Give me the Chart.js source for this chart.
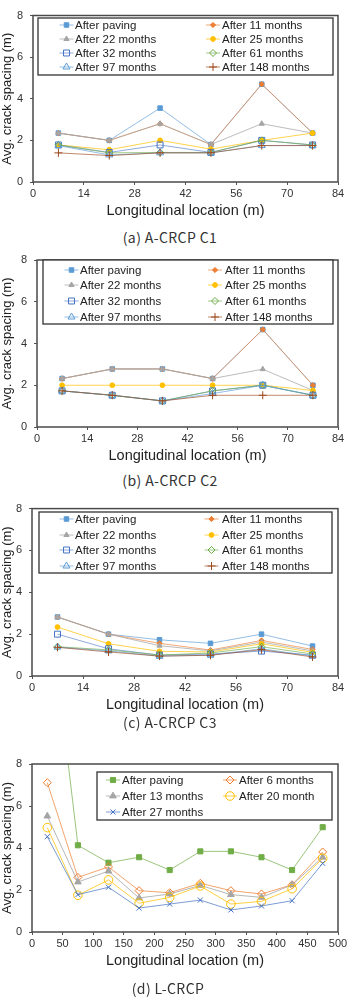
<!DOCTYPE html>
<html>
<head>
<meta charset="utf-8">
<script src="https://cdn.jsdelivr.net/npm/chart.js@4.4.1/dist/chart.umd.min.js"></script>
<style>
  html, body { margin: 0; padding: 0; background: #fff; }
  body { width: 350px; height: 1006px; position: relative; overflow: hidden; }
  canvas { position: absolute; left: 0; }
  .caption {
    position: absolute; left: -5px; width: 350px; text-align: center;
    font-family: "Noto Sans CJK KR", "Liberation Sans", sans-serif;
    font-size: 14px; line-height: 16px; letter-spacing: 0.4px; color: #333;
  }
</style>
</head>
<body>
<canvas id="c1" width="350" height="222" style="top:0px"></canvas>
<div class="caption" style="top:229px">(a) A-CRCP C1</div>
<canvas id="c2" width="350" height="222" style="top:245px"></canvas>
<div class="caption" style="top:472px">(b) A-CRCP C2</div>
<canvas id="c3" width="350" height="221" style="top:495px"></canvas>
<div class="caption" style="top:714px">(c) A-CRCP C3</div>
<canvas id="c4" width="350" height="222" style="top:750px"></canvas>
<div class="caption" style="top:980px; left:-7px">(d) L-CRCP</div>

<script>
// ---- data (avg. crack spacing in m) ----
const locA = [7, 21, 35, 49, 63, 77];
const locL = [25, 75, 125, 175, 225, 275, 325, 375, 425, 475];

const labelsA = ["After paving", "After 11 months", "After 22 months", "After 25 months",
                 "After 32 months", "After 61 months", "After 97 months", "After 148 months"];
const labelsL = ["After paving", "After 6 months", "After 13 months", "After 20 month", "After 27 months"];

const ticksA = [0, 14, 28, 42, 56, 70, 84];
const ticksL = [0, 50, 100, 150, 200, 250, 300, 350, 400, 450, 500];
const ticksY = [0, 2, 4, 6, 8];

// A-CRCP C1, one row per survey
const c1Values = [
    [2.35, 2.0, 3.55, 1.8, 4.7, 2.35],
    [2.35, 2.0, 2.8, 1.8, 4.7, 2.35],
    [2.35, 2.0, 2.8, 1.8, 2.8, 2.35],
    [1.78, 1.55, 2.0, 1.58, 2.0, 2.35],
    [1.78, 1.42, 1.78, 1.42, 2.0, 1.78],
    [1.78, 1.4, 1.42, 1.42, 2.0, 1.78],
    [1.75, 1.3, 1.4, 1.4, 1.75, 1.76],
    [1.4, 1.27, 1.4, 1.4, 1.75, 1.75]
];

// A-CRCP C2
const c2Values = [
    [2.32, 2.78, 2.78, 2.32, 4.67, 2.0],
    [2.32, 2.78, 2.78, 2.32, 4.67, 2.0],
    [2.32, 2.78, 2.78, 2.32, 2.77, 1.75],
    [2.0, 2.0, 2.0, 2.0, 2.0, 1.75],
    [1.73, 1.52, 1.25, 1.73, 2.0, 1.52],
    [1.73, 1.52, 1.25, 1.73, 2.0, 1.52],
    [1.73, 1.52, 1.25, 1.6, 2.0, 1.52],
    [1.73, 1.52, 1.25, 1.52, 1.52, 1.52]
];

// A-CRCP C3
const c3Values = [
    [2.82, 2.0, 1.73, 1.56, 2.0, 1.43],
    [2.82, 2.0, 1.56, 1.24, 1.7, 1.27],
    [2.82, 2.0, 1.45, 1.2, 1.62, 1.2],
    [2.34, 1.54, 1.18, 1.15, 1.54, 1.13],
    [2.0, 1.3, 1.0, 1.05, 1.19, 1.0],
    [1.4, 1.25, 1.0, 1.1, 1.4, 1.05],
    [1.38, 1.2, 0.95, 1.0, 1.3, 0.95],
    [1.37, 1.15, 0.95, 0.99, 1.26, 0.91]
];

// L-CRCP
const c4Values = [
    [16.4, 4.13, 3.3, 3.56, 2.95, 3.84, 3.84, 3.56, 2.95, 4.99],
    [7.11, 2.6, 3.1, 1.97, 1.87, 2.32, 1.97, 1.81, 2.25, 3.81],
    [5.52, 2.38, 2.9, 1.62, 1.81, 2.22, 1.78, 1.65, 2.25, 3.56],
    [4.97, 1.75, 2.48, 1.37, 1.65, 2.19, 1.33, 1.46, 2.06, 3.51],
    [4.54, 1.78, 2.13, 1.14, 1.33, 1.52, 1.05, 1.24, 1.49, 3.27]
];

// ---- styles ----
const FONT = "'Liberation Sans', Arial, sans-serif";

const styleA = [
    { color: "#5B9BD5", line: "rgba(91,155,213,0.65)", style: "rect", r: 3.2, fill: true },
    { color: "#ED7D31", line: "rgba(237,125,49,0.65)", style: "rectRot", r: 2.6, fill: true },
    { color: "#A5A5A5", line: "rgba(165,165,165,0.75)", style: "triangle", r: 3, fill: true },
    { color: "#FFC000", line: "rgba(255,192,0,0.7)", style: "circle", r: 2.4, fill: true },
    { color: "#4472C4", line: "rgba(68,114,196,0.6)", style: "rect", r: 4.2, fill: false },
    { color: "#70AD47", line: "rgba(112,173,71,0.65)", style: "rectRot", r: 3.5, fill: false },
    { color: "#5B9BD5", line: "rgba(91,155,213,0.65)", style: "triangle", r: 4, fill: false },
    { color: "#9E4A1E", line: "rgba(158,74,30,0.65)", style: "cross", r: 4, fill: false }
];

const styleL = [
    { color: "#70AD47", line: "rgba(112,173,71,0.7)", style: "rect", r: 3.6, fill: true },
    { color: "#ED7D31", line: "rgba(237,125,49,0.7)", style: "rectRot", r: 4, fill: false },
    { color: "#A5A5A5", line: "rgba(165,165,165,0.8)", style: "triangle", r: 3.8, fill: true },
    { color: "#FFC000", line: "rgba(255,192,0,0.75)", style: "circle", r: 4.3, fill: false },
    { color: "#4472C4", line: "rgba(68,114,196,0.7)", style: "crossRot", r: 3.6, fill: false }
];

// frame around the plot + boxed two-column legend (Excel look)
const frameLegend = {
    id: "frameLegend",
    afterDatasetsDraw(chart, args, opts) {
        const ctx = chart.ctx;
        const a = chart.chartArea;
        ctx.save();
        ctx.strokeStyle = "#4a4a4a";
        ctx.lineWidth = 1.5;
        ctx.strokeRect(a.left, a.top, a.right - a.left, a.bottom - a.top);

        const lg = opts.legend;
        const off = opts.top;
        const b = lg.box;
        ctx.fillStyle = "#fff";
        ctx.fillRect(b[0], b[1] - off, b[2] - b[0], b[3] - b[1]);
        ctx.strokeStyle = "#333";
        ctx.lineWidth = 1.3;
        ctx.strokeRect(b[0], b[1] - off, b[2] - b[0], b[3] - b[1]);

        chart.data.datasets.forEach((ds, i) => {
            const col = i % 2;
            const y = lg.rows[Math.floor(i / 2)] - off;
            const mx = lg.marks[col];
            ctx.strokeStyle = ds.borderColor;
            ctx.lineWidth = 1;
            ctx.beginPath();
            ctx.moveTo(mx - 7, y);
            ctx.lineTo(mx + 7, y);
            ctx.stroke();
            ctx.fillStyle = ds.pointBackgroundColor;
            ctx.strokeStyle = ds.pointBorderColor;
            ctx.lineWidth = ds.pointBorderWidth;
            Chart.helpers.drawPoint(ctx, {
                pointStyle: ds.pointStyle, rotation: 0,
                radius: ds.pointRadius, borderWidth: ds.pointBorderWidth
            }, mx, y);
            ctx.fillStyle = "#222";
            ctx.font = "11.5px " + FONT;
            ctx.textBaseline = "middle";
            ctx.textAlign = "left";
            ctx.fillText(ds.label, lg.texts[col], y + 0.5);
        });
        ctx.restore();
    }
};

function makeDatasets(locs, values, labels, styles) {
    const n = values.length;
    return values.map((row, i) => {
        const s = styles[i];
        return {
            label: labels[i],
            data: row.map((v, j) => ({ x: locs[j], y: v })),
            borderColor: s.line,
            borderWidth: 1,
            pointStyle: s.style,
            pointRadius: s.r,
            pointBorderWidth: 1,
            pointBorderColor: s.color,
            pointBackgroundColor: s.fill ? s.color : "rgba(255,255,255,0)",
            tension: 0,
            order: n - i // later surveys drawn on top
        };
    });
}

function renderChart(id, cfg) {
    const canvasTop = cfg.canvasTop;
    new Chart(document.getElementById(id).getContext("2d"), {
        type: "line",
        data: { datasets: makeDatasets(cfg.locs, cfg.values, cfg.labels, cfg.styles) },
        options: {
            responsive: false,
            animation: false,
            events: [],
            layout: {
                autoPadding: false,
                padding: { top: cfg.plotTop - canvasTop, right: 350 - cfg.plotRight, bottom: 0, left: 0 }
            },
            plugins: {
                legend: { display: false },
                tooltip: { enabled: false },
                frameLegend: { legend: cfg.legend, top: canvasTop }
            },
            scales: {
                x: {
                    type: "linear",
                    min: cfg.xTicks[0],
                    max: cfg.xTicks[cfg.xTicks.length - 1],
                    afterBuildTicks: s => { s.ticks = cfg.xTicks.map(v => ({ value: v })); },
                    afterFit: s => { s.height = 40; },
                    grid: { drawOnChartArea: false, tickLength: 3, color: "#555" },
                    border: { display: false },
                    ticks: { padding: 2, color: "#333", font: { family: FONT, size: 11 } },
                    title: {
                        display: true, text: "Longitudinal location (m)", color: "#222",
                        font: { family: FONT, size: 14.5 }, padding: { top: 0, bottom: 2 }
                    }
                },
                y: {
                    min: 0,
                    max: 8,
                    afterBuildTicks: s => { s.ticks = ticksY.map(v => ({ value: v })); },
                    afterFit: s => { s.width = cfg.plotLeft; },
                    grid: { drawOnChartArea: false, tickLength: 3, color: "#555" },
                    border: { display: false },
                    ticks: { padding: 7, color: "#333", font: { family: FONT, size: 11 } },
                    title: {
                        display: true, text: "Avg. crack spacing (m)", color: "#222",
                        font: { family: FONT, size: 13 }, padding: 0
                    }
                }
            }
        },
        plugins: [frameLegend]
    });
}

renderChart("c1", {
    canvasTop: 0, plotTop: 15.5, plotRight: 338, plotLeft: 33,
    locs: locA, values: c1Values, labels: labelsA, styles: styleA, xTicks: ticksA,
    legend: { box: [38, 18, 333, 75], rows: [25, 39, 53, 67], marks: [66.5, 213], texts: [75, 222] }
});

renderChart("c2", {
    canvasTop: 245, plotTop: 260, plotRight: 338, plotLeft: 37,
    locs: locA, values: c2Values, labels: labelsA, styles: styleA, xTicks: ticksA,
    legend: { box: [43, 260, 333, 324], rows: [270, 285, 301, 317], marks: [71.5, 215], texts: [80, 225] }
});

renderChart("c3", {
    canvasTop: 495, plotTop: 508.5, plotRight: 338, plotLeft: 32,
    locs: locA, values: c3Values, labels: labelsA, styles: styleA, xTicks: ticksA,
    legend: { box: [39, 512, 332, 573], rows: [519, 535, 550, 566], marks: [66.5, 211.5], texts: [75, 222] }
});

renderChart("c4", {
    canvasTop: 750, plotTop: 764, plotRight: 338, plotLeft: 32,
    locs: locL, values: c4Values, labels: labelsL, styles: styleL, xTicks: ticksL,
    legend: { box: [97, 772, 332, 820], rows: [780, 796, 812], marks: [113, 230], texts: [122, 239] }
});
</script>
</body>
</html>
